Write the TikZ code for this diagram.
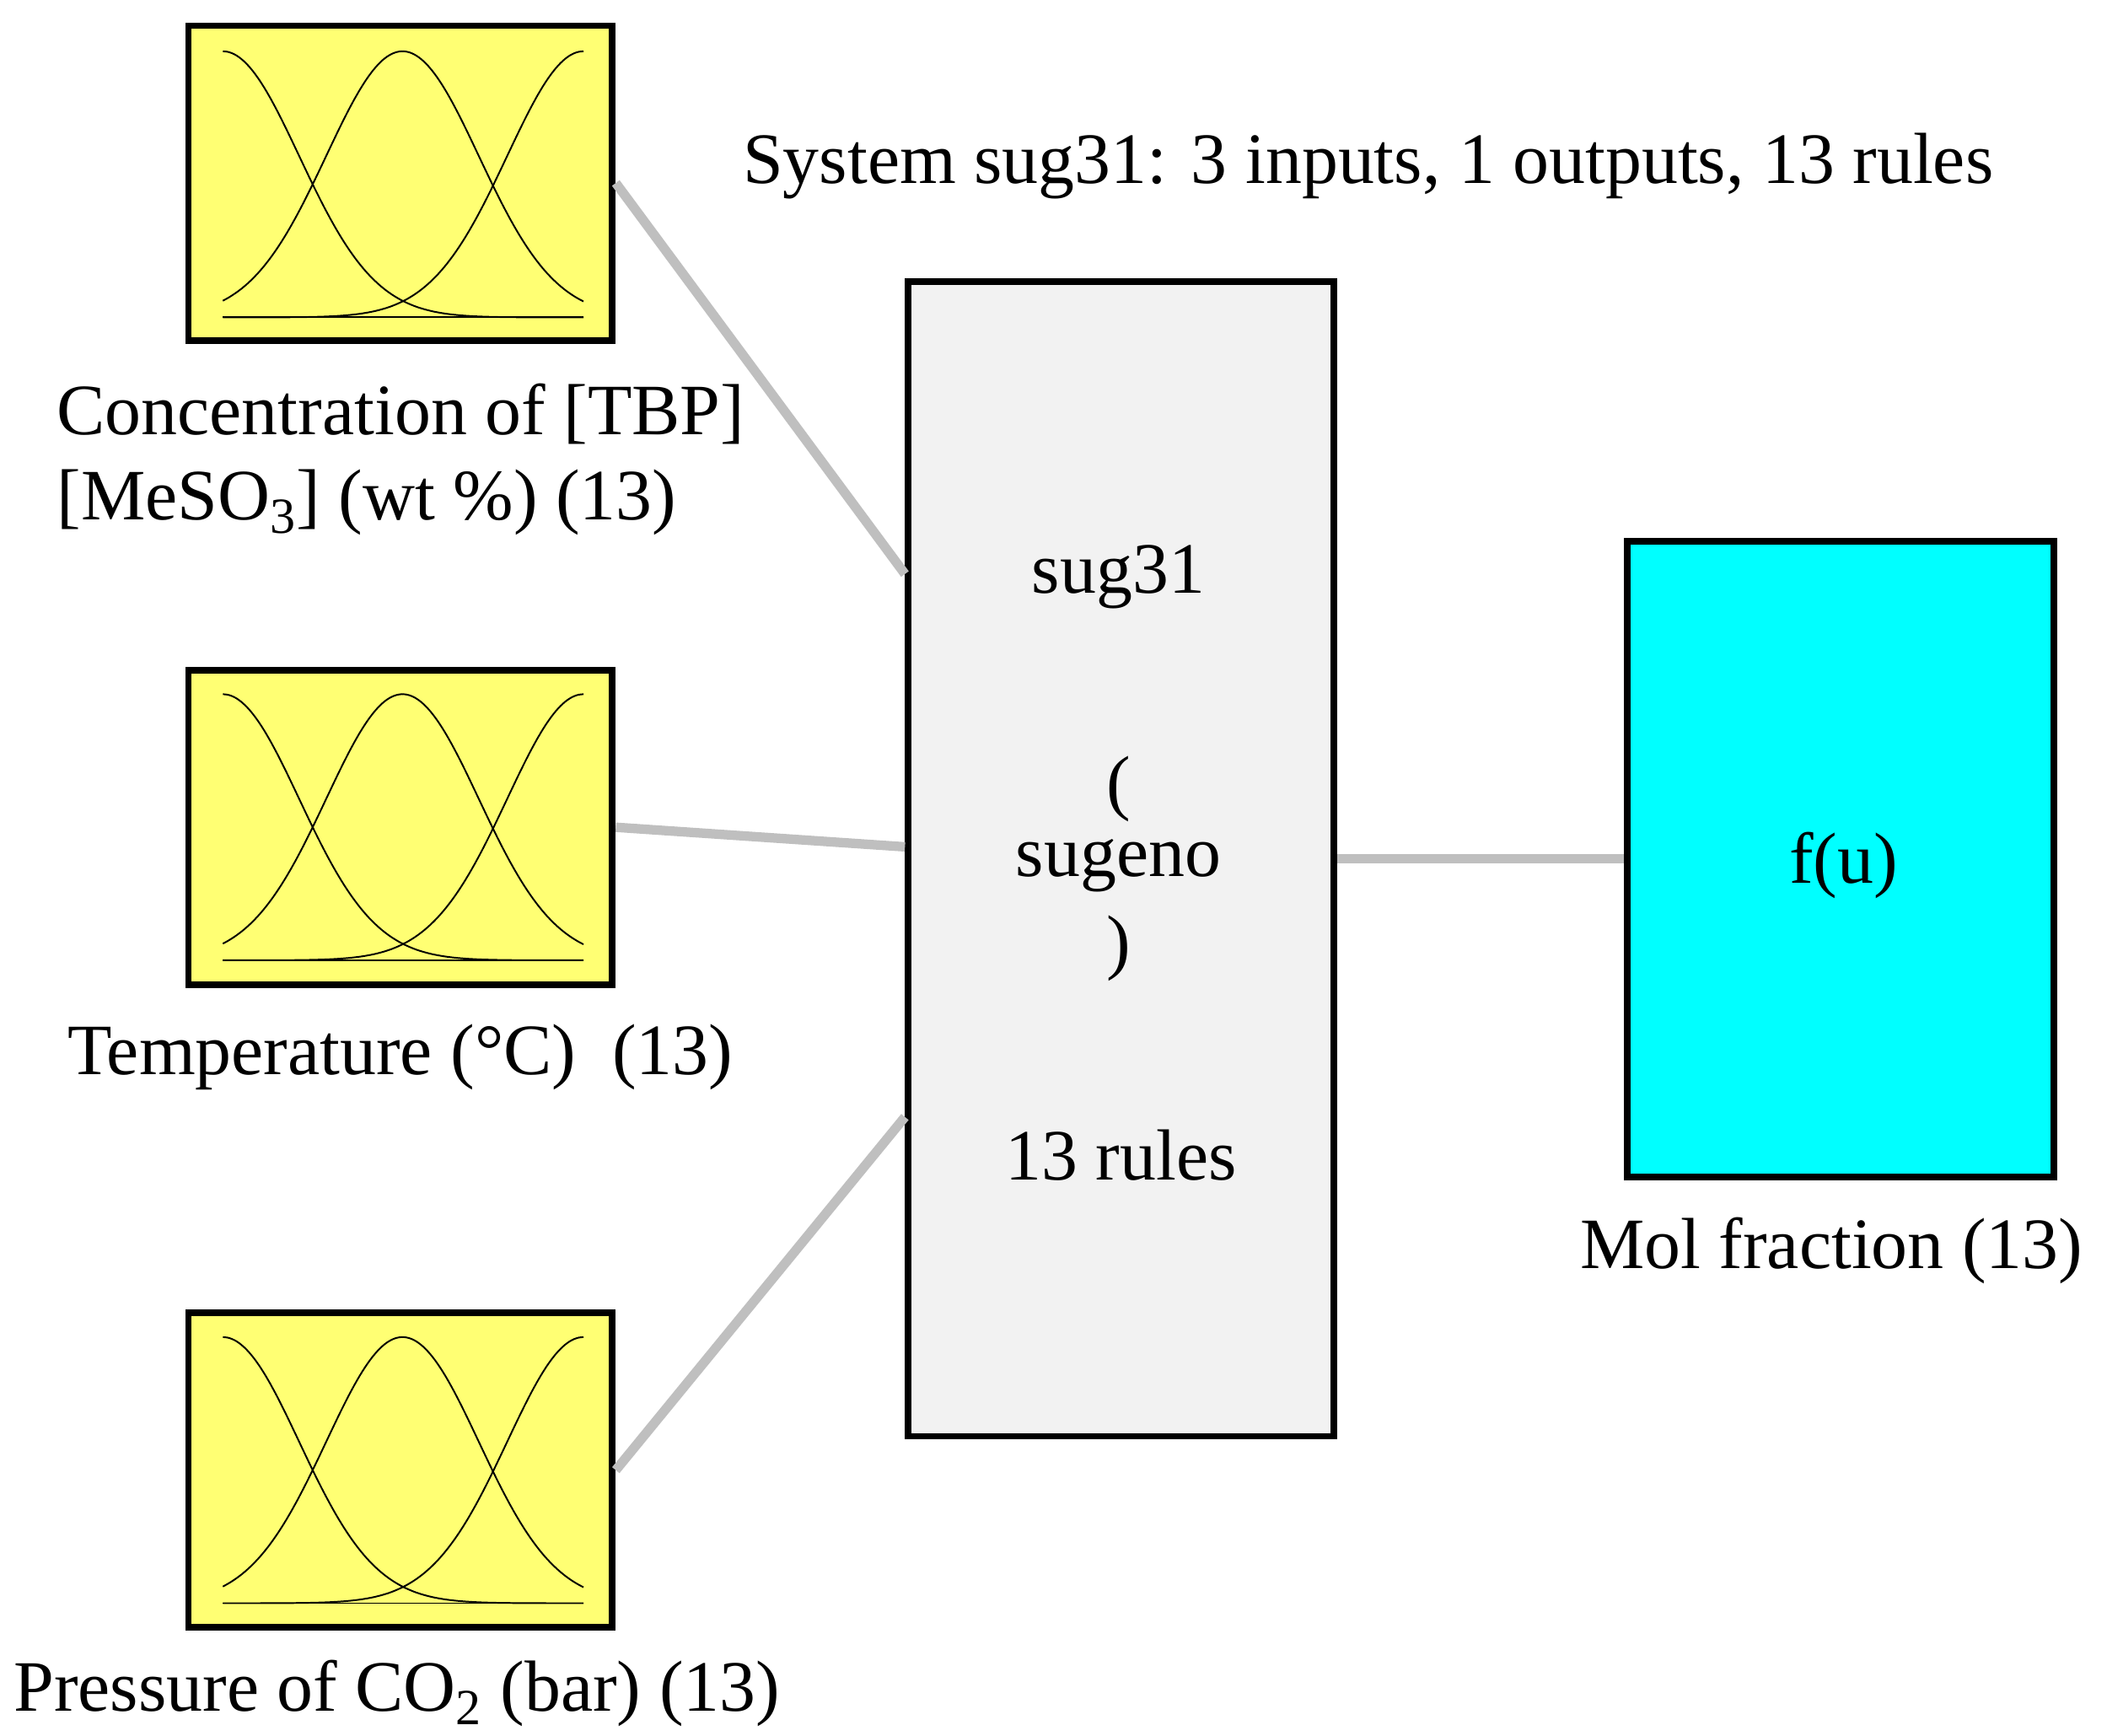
\documentclass[tikz,border=0pt]{standalone}
\usepackage{fontspec}
\setmainfont{Liberation Serif}
\usepackage{tikz}
\usetikzlibrary{positioning}
\definecolor{mfyellow}{rgb}{1,1,0.45}
\definecolor{sysgray}{rgb}{0.95,0.95,0.95}
\definecolor{linkgray}{rgb}{0.75,0.75,0.75}
\definecolor{outcyan}{rgb}{0,1,1}
\tikzset{
  inbox/.style={draw,line width=2.8pt,fill=mfyellow,minimum width=6.28cm,minimum height=4.66cm,inner sep=0pt},
  sysbox/.style={draw,line width=2.8pt,fill=sysgray,minimum width=6.3cm,minimum height=17.1cm,inner sep=0pt},
  outbox/.style={draw,line width=2.8pt,fill=outcyan,minimum width=6.32cm,minimum height=9.42cm,inner sep=0pt},
  link/.style={draw=linkgray,line width=4pt},
  lbl/.style={font=\fontsize{30.5}{36}\selectfont,align=left},
}
\begin{document}
\begin{tikzpicture}[x=0.02cm,y=-0.02cm]
\useasboundingbox (0,0) rectangle (1560,1285);
%
\node[inbox] (in1) at (296.5,135.5) {};
\node[inbox] (in2) at (296.5,612.5) {};
\node[inbox] (in3) at (296.5,1088.5) {};
\node[sysbox] (sys) at (830,636) {};
\node[outbox] (out) at (1362.5,636) {};
%
\foreach \dy in {0,476,952}{
  \foreach \c in {165,298,432}{
    \draw[line width=0.7pt,domain=165:432,samples=80,smooth]
      plot (\x,{235+\dy-197*exp(-((\x-\c)/56.5)^2/2)});
  }
  \draw[line width=0.7pt] (165,235+\dy) -- (432,235+\dy);
}
%
\coordinate (s1) at (670,425);
\coordinate (s2) at (670,627);
\coordinate (s3) at (670,827);
\path[link] (in1.east) -- (s1);
\path[link] (in2.east) -- (s2);
\path[link] (in3.east) -- (s3);
\path[link] (sys.east) -- (out.west);
%
\node[lbl,anchor=west] (t1) at (36,340) {Concentration of [TBP]\\{}[MeSO\textsubscript{3}] (wt \%) (13)};
\node[lbl,anchor=west] (t2) at (44,783) {Temperature (°C)\ \ (13)};
\node[lbl,anchor=west] (t3) at (4,1254) {Pressure of CO\textsubscript{2} (bar) (13)};
\node[lbl] (title) at (1013,123) {System sug31: 3 inputs, 1 outputs, 13 rules};
\node[lbl] at (828,427) {sug31};
\node[lbl] at (828,584) {(};
\node[lbl] at (828,641) {sugeno};
\node[lbl] at (828,702) {)};
\node[lbl] at (830,855) {13 rules};
\node[lbl] at (1365,641) {f(u)};
\node[lbl] (t4) at (1356,926) {Mol fraction (13)};
\end{tikzpicture}
\end{document}
